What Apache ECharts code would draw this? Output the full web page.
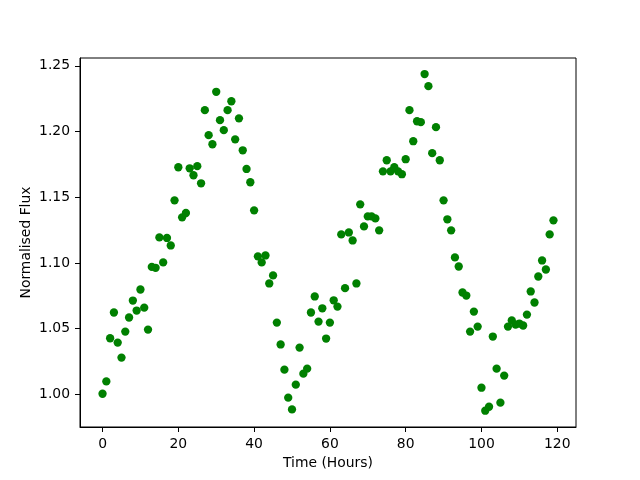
<!DOCTYPE html>
<html>
<head>
<meta charset="utf-8">
<script src="https://cdn.jsdelivr.net/npm/echarts@6/dist/echarts.min.js"></script>
<style>
  html, body { margin: 0; padding: 0; background: #fff; }
  #grafico { width: 640px; height: 480px; }
</style>
</head>
<body>
<div id="grafico"></div>
<script>
// horas 0..119
const horas = Array.from({ length: 120 }, (_, i) => i)

const flujo = [
  1.0005, 1.0099, 1.0427, 1.0623, 1.0394, 1.0280, 1.0478, 1.0585, 1.0714, 1.0638,
  1.0798, 1.0660, 1.0493, 1.0970, 1.0963, 1.1194, 1.1004, 1.1190, 1.1133, 1.1476,
  1.1728, 1.1347, 1.1380, 1.1720, 1.1667, 1.1736, 1.1606, 1.2162, 1.1972, 1.1903,
  1.2302, 1.2086, 1.2010, 1.2162, 1.2230, 1.1940, 1.2100, 1.1857, 1.1715, 1.1614,
  1.1400, 1.1050, 1.1004, 1.1057, 1.0844, 1.0905, 1.0546, 1.0380, 1.0188, 0.9975,
  0.9886, 1.0074, 1.0356, 1.0158, 1.0196, 1.0623, 1.0745, 1.0554, 1.0655, 1.0425,
  1.0546, 1.0716, 1.0668, 1.1217, 1.0808, 1.1232, 1.1171, 1.0844, 1.1446, 1.1278,
  1.1354, 1.1354, 1.1339, 1.1248, 1.1697, 1.1781, 1.1697, 1.1728, 1.1697, 1.1675,
  1.1789, 1.2162, 1.1926, 1.2078, 1.2071, 1.2437, 1.2345, 1.1835, 1.2033, 1.1781,
  1.1476, 1.1332, 1.1248, 1.1042, 1.0973, 1.0775, 1.0752, 1.0478, 1.0630, 1.0516,
  1.0051, 0.9876, 0.9906, 1.0440, 1.0196, 0.9937, 1.0143, 1.0516, 1.0562, 1.0531,
  1.0539, 1.0524, 1.0607, 1.0783, 1.0699, 1.0897, 1.1019, 1.0950, 1.1217, 1.1324
]

const ticksX = [0, 20, 40, 60, 80, 100, 120]
const ticksY = [1.00, 1.05, 1.10, 1.15, 1.20, 1.25]

const fuente = 'DejaVu Sans'
const chart = echarts.init(document.getElementById('grafico'))

const option = {
  animation: false,
  grid: {
    left: 80,
    right: 64,
    top: 58,
    bottom: 53,
    show: true,
    borderColor: '#000',
    borderWidth: 1,
    backgroundColor: '#fff'
  },
  xAxis: {
    type: 'value',
    min: -5.95,
    max: 124.95,
    name: 'Time (Hours)',
    nameLocation: 'middle',
    nameGap: 29,
    nameMoveOverlap: false,
    nameTextStyle: { fontFamily: fuente, fontSize: 13.9, color: '#000' },
    axisLine: { show: true, onZero: false, lineStyle: { color: '#000', width: 1 } },
    axisTick: { show: true, inside: false, length: 5, customValues: ticksX, lineStyle: { color: '#000' } },
    axisLabel: {
      margin: 10,
      customValues: ticksX,
      fontFamily: fuente,
      fontSize: 13.9,
      color: '#000'
    },
    splitLine: { show: false }
  },
  yAxis: {
    type: 'value',
    min: 0.9752,
    max: 1.2559,
    name: 'Normalised Flux',
    nameLocation: 'middle',
    nameGap: 47,
    nameMoveOverlap: false,
    nameTextStyle: { fontFamily: fuente, fontSize: 13.9, color: '#000' },
    axisLine: { show: true, onZero: false, lineStyle: { color: '#000', width: 1 } },
    axisTick: { show: true, inside: false, length: 5, customValues: ticksY, lineStyle: { color: '#000' } },
    axisLabel: {
      margin: 10,
      customValues: ticksY,
      formatter: v => v.toFixed(2),
      fontFamily: fuente,
      fontSize: 13.9,
      color: '#000'
    },
    splitLine: { show: false }
  },
  series: [
    {
      type: 'scatter',
      symbol: 'circle',
      symbolSize: 8.3,
      data: horas.map((h, i) => [h, flujo[i]]),
      itemStyle: { color: '#008000', opacity: 1 }
    }
  ]
}

chart.setOption(option)
</script>
</body>
</html>
